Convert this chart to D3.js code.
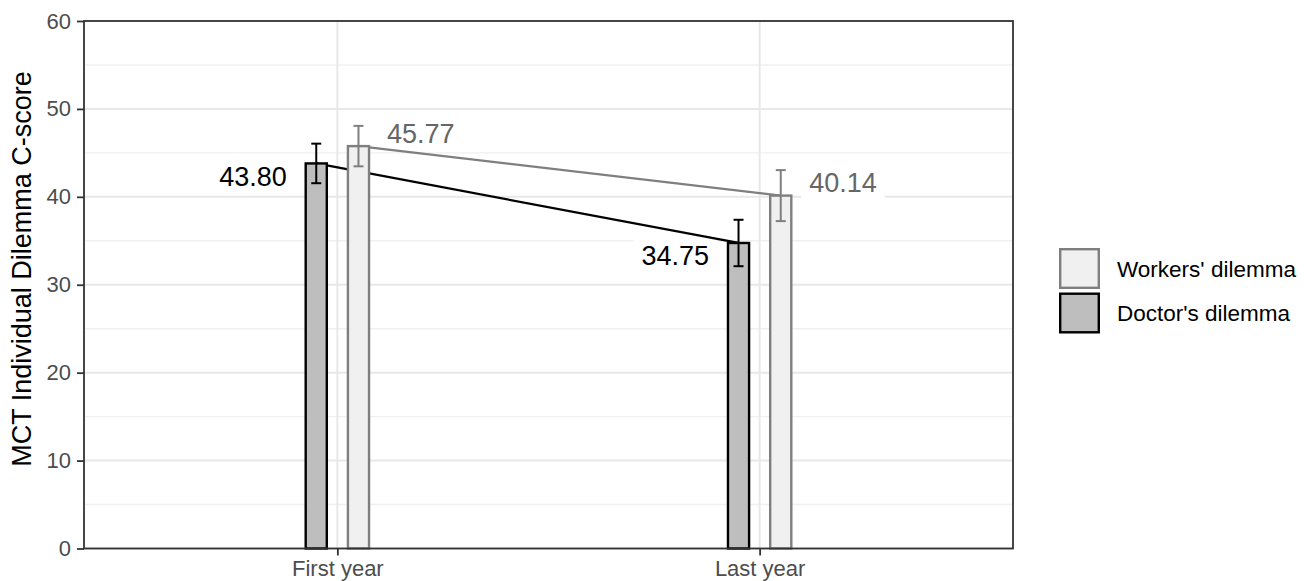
<!DOCTYPE html>
<html>
<head>
<meta charset="utf-8">
<script src="https://cdn.jsdelivr.net/npm/d3@7"></script>
<style>
  html, body { margin: 0; padding: 0; background: #fff; }
  svg { display: block; font-family: "Liberation Sans", Arial, sans-serif; }
</style>
</head>
<body>
<svg id="chart" width="1309" height="581"></svg>
<script>
// Years on the x axis
const categories = ["First year", "Last year"];
// Series, drawn left to right inside each year
const seriesNames = ["Doctor's dilemma", "Workers' dilemma"];
// Mean C-scores and error-bar half widths per series
const doctorMeans = [43.80, 34.75];
const doctorErrors = [2.25, 2.64];
const workersMeans = [45.77, 40.14];
const workersErrors = [2.3, 2.9];
// Y axis ticks
const yTicks = [0, 10, 20, 30, 40, 50, 60];
const yMinorTicks = [5, 15, 25, 35, 45, 55];
// Legend order, top to bottom
const legendOrder = ["Workers' dilemma", "Doctor's dilemma"];

const styles = {
  "Doctor's dilemma": { fill: "#bebebe", stroke: "#000000", text: "#000000", side: "left" },
  "Workers' dilemma": { fill: "#f0f0f0", stroke: "#7f7f7f", text: "#666666", side: "right" }
};

const series = [
  { name: seriesNames[0], means: doctorMeans, errors: doctorErrors },
  { name: seriesNames[1], means: workersMeans, errors: workersErrors }
].map(s => ({
  name: s.name,
  points: categories.map((c, i) => ({ cat: c, value: s.means[i], err: s.errors[i] }))
}));

const panel = { left: 84, right: 1013, top: 21, bottom: 548.5 };
const svg = d3.select("#chart");

const x = d3.scalePoint().domain(categories).range([panel.left, panel.right]).padding(0.6);
const step = x.step();
const dodge = d3.scaleBand().domain(seriesNames).range([-0.1 * step, 0.1 * step]);
const barW = dodge.bandwidth() / 2;
const cx = (cat, name) => x(cat) + dodge(name) + dodge.bandwidth() / 2;

const y = d3.scaleLinear().domain([0, 60]).range([panel.bottom, panel.top]);

// Panel background and grid
svg.append("rect")
  .attr("x", panel.left).attr("y", panel.top)
  .attr("width", panel.right - panel.left).attr("height", panel.bottom - panel.top)
  .attr("fill", "#ffffff");

const grid = svg.append("g");
grid.selectAll("line.minor").data(yMinorTicks).enter().append("line")
  .attr("x1", panel.left).attr("x2", panel.right)
  .attr("y1", d => y(d)).attr("y2", d => y(d))
  .attr("stroke", "#f0f0f0").attr("stroke-width", 1.4);
grid.selectAll("line.major").data(yTicks).enter().append("line")
  .attr("x1", panel.left).attr("x2", panel.right)
  .attr("y1", d => y(d)).attr("y2", d => y(d))
  .attr("stroke", "#e8e8e8").attr("stroke-width", 2);
grid.selectAll("line.vmajor").data(categories).enter().append("line")
  .attr("x1", d => x(d)).attr("x2", d => x(d))
  .attr("y1", panel.top).attr("y2", panel.bottom)
  .attr("stroke", "#e8e8e8").attr("stroke-width", 2);

// Value labels with a white backing box
const labelSize = 27;
const labels = svg.append("g");
series.forEach(s => {
  const st = styles[s.name];
  s.points.forEach(p => {
    const px = cx(p.cat, s.name);
    const g = labels.append("g");
    const t = g.append("text")
      .attr("font-size", labelSize)
      .attr("fill", st.text)
      .text(p.value.toFixed(2));
    if (st.side === "right") {
      t.attr("x", px + 28.5).attr("y", y(p.value) - 3.5).attr("text-anchor", "start");
    } else {
      t.attr("x", px - 29.5).attr("y", y(p.value) + 22.4).attr("text-anchor", "end");
    }
    const bb = t.node().getBBox();
    g.insert("rect", "text")
      .attr("x", bb.x - 8).attr("y", bb.y - 3)
      .attr("width", bb.width + 16).attr("height", bb.height + 5)
      .attr("fill", "#ffffff");
  });
});

// Connecting lines between years
const line = d3.line().x(d => d.x).y(d => d.y);
series.forEach(s => {
  svg.append("path")
    .datum(s.points.map(p => ({ x: cx(p.cat, s.name), y: y(p.value) })))
    .attr("d", line)
    .attr("fill", "none")
    .attr("stroke", styles[s.name].stroke)
    .attr("stroke-width", 2.3);
});

// Bars
series.forEach(s => {
  const st = styles[s.name];
  svg.append("g").selectAll("rect").data(s.points).enter().append("rect")
    .attr("x", d => cx(d.cat, s.name) - barW / 2)
    .attr("width", barW)
    .attr("y", d => y(d.value))
    .attr("height", d => y(0) - y(d.value))
    .attr("fill", st.fill)
    .attr("stroke", st.stroke)
    .attr("stroke-width", 2.4);
});

// Error bars
const cap = 10;
series.forEach(s => {
  const st = styles[s.name];
  const g = svg.append("g").attr("stroke", st.stroke).attr("stroke-width", 2).attr("fill", "none");
  s.points.forEach(p => {
    const px = cx(p.cat, s.name);
    const yHi = y(p.value + p.err), yLo = y(p.value - p.err);
    g.append("line").attr("x1", px).attr("x2", px).attr("y1", yHi).attr("y2", yLo);
    g.append("line").attr("x1", px - cap / 2).attr("x2", px + cap / 2).attr("y1", yHi).attr("y2", yHi);
    g.append("line").attr("x1", px - cap / 2).attr("x2", px + cap / 2).attr("y1", yLo).attr("y2", yLo);
  });
});

// Panel border
svg.append("rect")
  .attr("x", panel.left).attr("y", panel.top)
  .attr("width", panel.right - panel.left).attr("height", panel.bottom - panel.top)
  .attr("fill", "none").attr("stroke", "#333333").attr("stroke-width", 1.8);

// Axes
const yAxis = d3.axisLeft(y).tickValues(yTicks).tickSize(7).tickPadding(6);
const gy = svg.append("g").attr("transform", `translate(${panel.left},0)`).call(yAxis);
gy.select(".domain").remove();
gy.selectAll(".tick line").attr("stroke", "#333333").attr("stroke-width", 1.8);
gy.selectAll(".tick text").attr("font-size", 22).attr("fill", "#4d4d4d")
  .attr("font-family", "'Liberation Sans', Arial, sans-serif");

const xAxis = d3.axisBottom(x).tickSize(7).tickPadding(5);
const gx = svg.append("g").attr("transform", `translate(0,${panel.bottom})`).call(xAxis);
gx.select(".domain").remove();
gx.selectAll(".tick line").attr("stroke", "#333333").attr("stroke-width", 1.8);
gx.selectAll(".tick text").attr("font-size", 22).attr("fill", "#4d4d4d")
  .attr("font-family", "'Liberation Sans', Arial, sans-serif");

// Y axis title
svg.append("text")
  .attr("transform", "translate(31,269) rotate(-90)")
  .attr("text-anchor", "middle")
  .attr("font-size", 27)
  .attr("fill", "#000000")
  .text("MCT Individual Dilemma C-score");

// Legend
const legend = svg.append("g").attr("transform", "translate(1059,248)");
const keySize = 41, keyGap = 3.5;
legendOrder.forEach((name, i) => {
  const st = styles[name];
  const gy0 = i * (keySize + keyGap);
  legend.append("rect")
    .attr("x", 1.2).attr("y", gy0 + 1.2)
    .attr("width", keySize - 2.4).attr("height", keySize - 2.4)
    .attr("fill", st.fill).attr("stroke", st.stroke).attr("stroke-width", 2.4);
  legend.append("text")
    .attr("x", keySize + 17).attr("y", gy0 + keySize / 2 + 8)
    .attr("font-size", 22.5).attr("fill", "#000000")
    .text(name);
});
</script>
</body>
</html>
